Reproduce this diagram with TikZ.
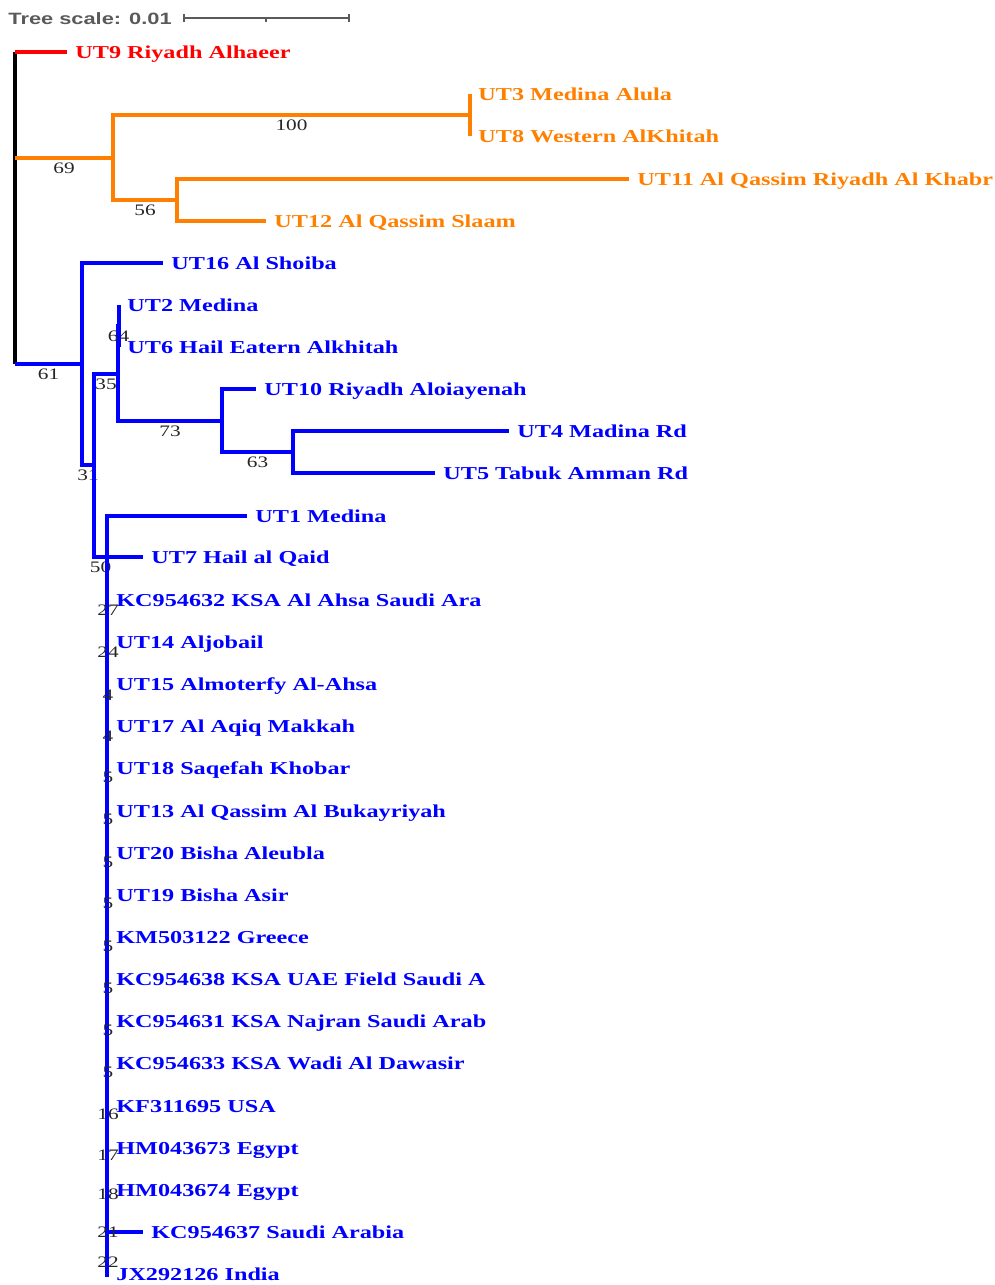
\documentclass[tikz,border=0pt]{standalone}
\usepackage{fontspec}
\setmainfont{Liberation Serif}
\newfontfamily\tipfont[FakeStretch=1.33]{Liberation Serif}
\newfontfamily\scalefont[FakeStretch=1.33]{Liberation Sans}
\usetikzlibrary{positioning}

\definecolor{cladeRed}{RGB}{255,0,0}
\definecolor{cladeOrange}{RGB}{255,128,0}
\definecolor{cladeBlue}{RGB}{0,0,255}
\definecolor{scaleGray}{RGB}{90,90,90}

\tikzset{
  branch/.style={line width=1.6pt},
  comb/.style={line width=2.2pt},
  tip/.style={anchor=base west, inner sep=0pt, xshift=4pt, yshift=-3.1pt,
    font=\tipfont\bfseries\fontsize{9.1}{10}\selectfont},
  boot/.style={inner sep=0pt, text=black!85, font=\tipfont\fontsize{8}{9}\selectfont},
}

\begin{document}
\begin{tikzpicture}[x=0.5pt, y=-0.5pt]
\useasboundingbox (0,0) rectangle (995,1285);

% scale bar
\node[anchor=base west, inner sep=0pt, text=scaleGray,
  font=\scalefont\bfseries\fontsize{8.2}{10}\selectfont] (scaletitle) at (8,25) {Tree scale: 0.01};
\coordinate (barL) at (184,18);
\coordinate (barM) at (266,18);
\coordinate (barR) at (349,18);
\draw [scaleGray, line width=1pt] (barL) -- (barR);
\draw [scaleGray, line width=1pt] (barL) ++(0,-4) -- ++(0,8);
\draw [scaleGray, line width=1pt] (barR) ++(0,-4) -- ++(0,8);
\draw [scaleGray, line width=1pt] (barM) -- ++(0,4);

% tree nodes and tips
\coordinate (root) at (15,208);
\coordinate (t9) at (67,52);
\coordinate (n69) at (113,158);
\coordinate (n100) at (470,115);
\coordinate (t3) at (470,94);
\coordinate (t8) at (470,136);
\coordinate (n56) at (177,200);
\coordinate (t11) at (629,179);
\coordinate (t12) at (266,221);
\coordinate (n61) at (82,364);
\coordinate (t16) at (163,263);
\coordinate (n31) at (94,465);
\coordinate (n35) at (118,374);
\coordinate (n64) at (119,326);
\coordinate (t2) at (119,305);
\coordinate (t6) at (119,347);
\coordinate (n73) at (222,421);
\coordinate (t10) at (256,389);
\coordinate (n63) at (293,452);
\coordinate (t4) at (509,431);
\coordinate (t5) at (435,473);
\coordinate (n50) at (107,557);
\coordinate (t1) at (247,516);
\coordinate (t7) at (143,557);
\coordinate (t37) at (143,1232);
\coordinate (combend) at (107,1277);

% root
\draw [line width=1.9pt] (root |- t9) -- (root |- n61);
\draw [branch, cladeRed] (root |- t9) -- (t9);

% orange clade
\draw [branch, cladeOrange] (root |- n69) -- (n69) node[boot, midway, below=1.7pt] {69};
\draw [branch, cladeOrange] (n69) |- (n100) node[boot, pos=0.75, below=1.7pt] {100};
\draw [branch, cladeOrange] (n69) |- (n56) node[boot, pos=0.75, below=1.7pt] {56};
\draw [branch, cladeOrange] (n100) |- (t3) (n100) |- (t8);
\draw [branch, cladeOrange] (n56) |- (t11) (n56) |- (t12);

% blue clade
\draw [branch, cladeBlue] (root |- n61) -- (n61) node[boot, midway, below=1.7pt] {61};
\draw [branch, cladeBlue] (n61) |- (t16);
\draw [branch, cladeBlue] (n61) |- (n31) node[boot, pos=0.75, below=1.7pt] {31};
\draw [branch, cladeBlue] (n31) |- (n35) node[boot, pos=0.75, below=1.7pt] {35};
\draw [branch, cladeBlue] (n31) |- (n50) node[boot, pos=0.75, below=1.7pt] {50};
\draw [branch, cladeBlue] (n35) |- (n64) node[boot, pos=0.75, below=1.7pt] {64};
\draw [branch, cladeBlue] (n64) |- (t2) (n64) |- (t6);
\draw [branch, cladeBlue] (n35) |- (n73) node[boot, pos=0.75, below=1.7pt] {73};
\draw [branch, cladeBlue] (n73) |- (t10);
\draw [branch, cladeBlue] (n73) |- (n63) node[boot, pos=0.75, below=1.7pt] {63};
\draw [branch, cladeBlue] (n63) |- (t4) (n63) |- (t5);
\draw [branch, cladeBlue] (n50) |- (t1);
\draw [branch, cladeBlue] (n50) -- (t7);
\draw [comb, cladeBlue] (n50 |- t1) -- (combend);
\draw [branch, cladeBlue] (n50 |- t37) -- (t37);

% tip labels
\node[tip, text=cladeRed] (ut9) at (t9) {UT9 Riyadh Alhaeer};
\node[tip, text=cladeOrange] (ut3) at (t3) {UT3 Medina Alula};
\node[tip, text=cladeOrange] (ut8) at (t8) {UT8 Western AlKhitah};
\node[tip, text=cladeOrange] (ut11) at (t11) {UT11 Al Qassim Riyadh Al Khabr};
\node[tip, text=cladeOrange] (ut12) at (t12) {UT12 Al Qassim Slaam};
\node[tip, text=cladeBlue] (ut16) at (t16) {UT16 Al Shoiba};
\node[tip, text=cladeBlue] (ut2) at (t2) {UT2 Medina};
\node[tip, text=cladeBlue] (ut6) at (t6) {UT6 Hail Eatern Alkhitah};
\node[tip, text=cladeBlue] (ut10) at (t10) {UT10 Riyadh Aloiayenah};
\node[tip, text=cladeBlue] (ut4) at (t4) {UT4 Madina Rd};
\node[tip, text=cladeBlue] (ut5) at (t5) {UT5 Tabuk Amman Rd};
\node[tip, text=cladeBlue] (ut1) at (t1) {UT1 Medina};
\node[tip, text=cladeBlue] (ut7) at (t7) {UT7 Hail al Qaid};
\node[tip, text=cladeBlue] (kc37) at (t37) {KC954637 Saudi Arabia};
\foreach \lab/\y [count=\i] in {KC954632 KSA Al Ahsa Saudi Ara/600, UT14 Aljobail/642,
    UT15 Almoterfy Al-Ahsa/684, UT17 Al Aqiq Makkah/726, UT18 Saqefah Khobar/768,
    UT13 Al Qassim Al Bukayriyah/811, UT20 Bisha Aleubla/853, UT19 Bisha Asir/895,
    KM503122 Greece/937, KC954638 KSA UAE Field Saudi A/979, KC954631 KSA Najran Saudi Arab/1021,
    KC954633 KSA Wadi Al Dawasir/1063, KF311695 USA/1106, HM043673 Egypt/1148,
    HM043674 Egypt/1190, JX292126 India/1274}
  \node[tip, text=cladeBlue] (comb\i) at (108,\y) {\lab};

% bootstrap values along the comb
\foreach \bs/\y [count=\k] in {27/610, 24/652, 4/695, 4/736, 5/777, 5/819, 5/862, 5/903,
    5/946, 5/988, 5/1030, 5/1072, 16/1114, 17/1155, 18/1194, 21/1232, 22/1262}
  \node[boot] (bs\k) at (108,\y) {\bs};

\end{tikzpicture}
\end{document}
